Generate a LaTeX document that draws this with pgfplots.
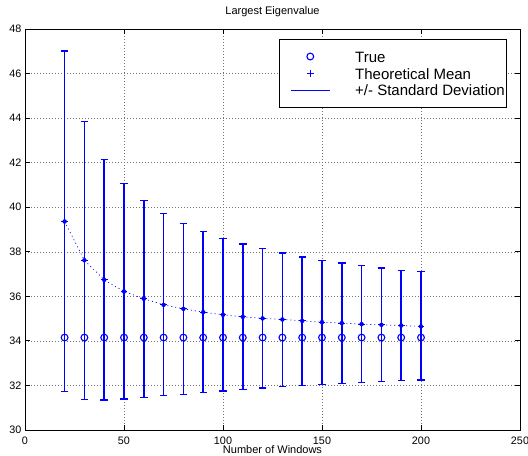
\documentclass[border=0pt]{standalone}
\usepackage{fontspec}
\setmainfont{Liberation Sans}
\usepackage{pgfplots}
\usepackage{pgfplotstable}
\pgfplotsset{compat=1.18}

\pgfplotstableread{
x   m     top   bot   t
20  39.36 47.01 31.72 34.15
30  37.62 43.86 31.38 34.15
40  36.74 42.15 31.35 34.15
50  36.22 41.07 31.39 34.15
60  35.89 40.30 31.47 34.15
70  35.62 39.71 31.54 34.15
80  35.44 39.27 31.60 34.15
90  35.29 38.91 31.69 34.15
100 35.17 38.61 31.75 34.15
110 35.08 38.35 31.81 34.15
120 35.01 38.14 31.89 34.15
130 34.96 37.95 31.95 34.15
140 34.90 37.77 31.99 34.15
150 34.84 37.62 32.05 34.15
160 34.80 37.50 32.10 34.15
170 34.75 37.38 32.13 34.15
180 34.72 37.27 32.17 34.15
190 34.69 37.17 32.21 34.15
200 34.65 37.10 32.25 34.15
}\data

\begin{document}
\begin{tikzpicture}
\begin{axis}[
  scale only axis, width=495bp, height=401bp,
  xmin=0, xmax=250, ymin=30, ymax=48,
  xtick={0,50,...,250}, ytick={30,32,...,48},
  tick align=inside, tick pos=both, major tick length=5bp,
  axis line style={black, line width=0.9bp},
  every tick/.style={black, line width=0.8bp},
  grid=major,
  major grid style={black!55, line width=0.5bp, dash pattern=on 0.7bp off 2.3bp},
  /pgf/number format/assume math mode=true,
  ticklabel style={font=\fontsize{10.8bp}{12bp}\selectfont},
  xticklabel style={inner sep=0pt, anchor=north, yshift=-6.3bp},
  yticklabel style={inner sep=0pt, anchor=east, xshift=-3.5bp},
  title={Largest Eigenvalue},
  title style={font=\fontsize{11bp}{13bp}\selectfont, inner sep=0pt, anchor=base, at={(axis description cs:0.5,1)}, yshift=9bp},
  xlabel={Number of Windows},
  xlabel style={font=\fontsize{11bp}{13bp}\selectfont, inner sep=0pt, anchor=north, at={(axis description cs:0.5,0)}, yshift=-15.6bp},
  legend style={at={(0.5131,0.975)}, anchor=north west, draw=black, line width=0.8bp, fill=white,
    inner xsep=2bp, inner ysep=5.3bp, row sep=0pt, column sep=0pt,
    cells={anchor=base west},
    nodes={font=\fontsize{15bp}{18bp}\selectfont, inner sep=0pt, text height=11bp, text depth=5.7bp}},
]
\addplot[color=blue, only marks, mark=none, forget plot,
  error bars/.cd, y dir=both, y explicit,
  error bar style={color=blue, solid, line width=1.5bp},
  error mark options={color=blue, solid, rotate=90, mark size=3.7bp, line width=1.3bp}]
  table[x=x, y=m, y error plus expr=\thisrow{top}-\thisrow{m}, y error minus expr=\thisrow{m}-\thisrow{bot}] {\data};
\addplot[color=blue, only marks, mark=o, mark size=3.4bp, mark options={color=blue, line width=1.1bp},
  legend image code/.code={\draw[color=blue, line width=1.1bp] plot coordinates {(19.5bp,6bp)}; \path (-9bp,0bp) (64bp,17.4bp);}]
  table[x=x, y=t] {\data};
\addlegendentry{True}
\addplot[color=blue, line width=0.7bp, dash pattern=on 1bp off 3bp, mark=+, mark size=3.4bp, mark options={color=blue, solid, line width=0.9bp},
  legend image code/.code={\draw[color=blue, line width=0.9bp, solid] plot coordinates {(19.5bp,5.7bp)}; \path (-9bp,0bp) (64bp,0bp);}]
  table[x=x, y=m] {\data};
\addlegendentry{Theoretical Mean}
\addlegendimage{legend image code/.code={\draw[color=blue, line width=1.1bp, solid] (0bp,5bp) -- (39bp,5bp); \path (-9bp,0bp) (64bp,0bp);}}
\addlegendentry{+/- Standard Deviation}
\end{axis}
\pgfresetboundingbox
\useasboundingbox (-25bp,-26bp) rectangle (503bp,430bp);
\end{tikzpicture}
\end{document}
